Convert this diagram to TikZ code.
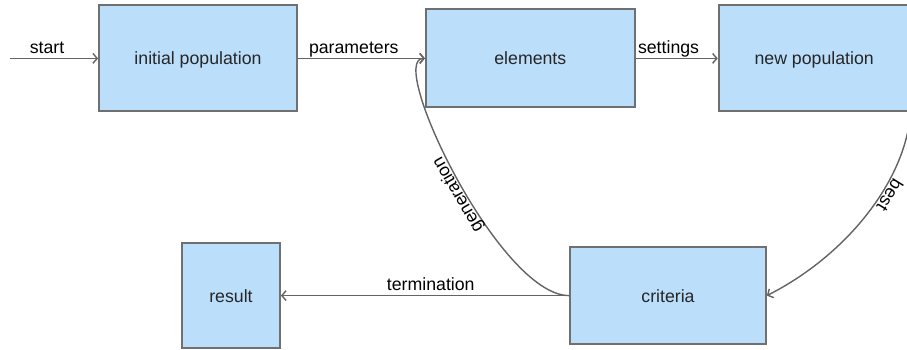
\documentclass[tikz,border=0pt]{standalone}
\usepackage{fontspec}
\setmainfont{Liberation Sans}
\usetikzlibrary{arrows.meta, positioning}
\definecolor{gafill}{RGB}{187, 222, 251}
\definecolor{gaedge}{RGB}{112, 112, 112}
\definecolor{galine}{RGB}{100, 100, 100}
\tikzset{
  stage/.style={rectangle, draw=gaedge, line width=1.3pt, fill=gafill,
                minimum width=#1, inner sep=0pt, text=black!85, text depth=0pt,
                font=\fontsize{12.6}{15}\selectfont},
  stage/.default=4.9cm,
  flow/.style={-{Straight Barb[length=3pt, width=7pt]}, line width=1pt, color=galine},
  lbl/.style={inner sep=3pt, text depth=0pt, text=black,
              font=\fontsize{12.6}{15}\selectfont},
  bent/.style={lbl, inner sep=1pt, sloped, above, allow upside down},
}

\begin{document}
\begin{tikzpicture}
        \useasboundingbox (0,0) rectangle (22.675,-8.75);
        \coordinate (start) at (0.25,-1.46);
        \node[stage=4.95cm, minimum height=2.65cm] (init) at (4.95,-1.46) {initial population};
        \node[stage=5.225cm, minimum height=2.45cm, right=3.175cm of init] (elem) {elements};
        \node[stage=4.775cm, minimum height=2.65cm, right=2.05cm of elem] (newpop) {new population};
        \node[stage=4.9cm, minimum height=2.425cm] (crit) at (16.7,-7.39) {criteria};
        \node[stage=2.45cm, minimum height=2.625cm] (result) at (5.775,-7.39) {result};

        \draw[flow] (start) -- node[lbl, above, pos=0.42] {start} (init);
        \draw[flow] (init) -- node[lbl, above, pos=0.44] {parameters} (elem);
        \draw[flow] (elem) -- node[lbl, above, pos=0.4] {settings} (newpop);
        \draw[flow] (newpop.south east) .. controls +(-0.125,-1.725) and +(1.975,1.0) .. (crit.east)
             node[bent, pos=0.38] {best};
        \draw[flow] (crit.west) .. controls +(-1.75,0) and +(-0.975,0) .. (elem.west)
             node[bent, pos=0.46] {generation};
        \draw[flow] (crit) -- node[lbl, above, pos=0.48] {termination} (result);
\end{tikzpicture}
\end{document}
